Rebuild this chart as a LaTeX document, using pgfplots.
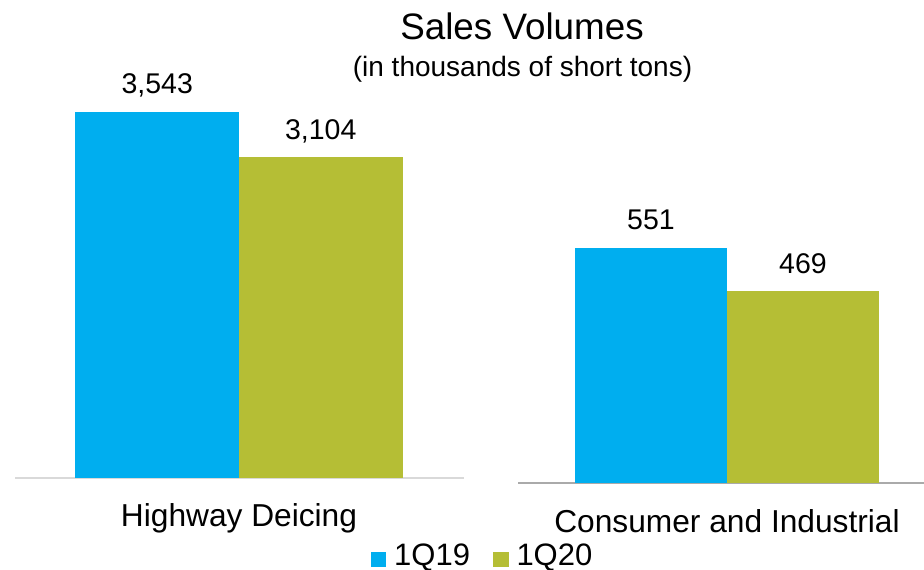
\documentclass[border=0pt]{standalone}
\usepackage{pgfplots}
\pgfplotsset{compat=1.18}
\usepackage{fontspec}
\setmainfont{Liberation Sans}
\definecolor{c19}{RGB}{0,174,239}
\definecolor{c20}{RGB}{181,190,53}
\begin{document}
\begin{tikzpicture}
\path[use as bounding box] (0pt,0pt) rectangle (924pt,570pt);
\pgfplotsset{
  common/.style={
    scale only axis, ybar=0pt, bar width=1,
    enlargelimits=false,
    hide y axis,
    axis x line*=bottom,
    xtick={0}, major tick length=0,
    xticklabel style={font=\fontsize{31.7}{34}\selectfont, anchor=base, yshift=-49pt},
    nodes near coords, point meta=y,
    /pgf/number format/.cd, assume math mode=true, 1000 sep={,}, fixed, precision=0, /pgfplots/.cd,
    nodes near coords style={font=\fontsize{28.5}{30}\selectfont, anchor=base, yshift=18pt, /pgf/number format/assume math mode=true, /pgf/number format/1000 sep={,}},
    legend image code/.code={\fill[##1] (0pt,-12pt) rectangle (15.5pt,3.5pt);},
  }
}
\begin{axis}[common,
  at={(15pt,92pt)}, anchor=south west,
  width=449pt, height=413.6pt,
  xmin=-1.370, xmax=1.376, ymin=0, ymax=4000,
  x axis line style={-, line width=2pt, color={rgb,255:red,217;green,217;blue,217}},
  xticklabels={Highway Deicing},
  legend columns=2,
  legend style={at={(1.0412,-0.1865)}, anchor=center, draw=none, fill=none,
    font=\fontsize{31}{33}\selectfont,
    /tikz/every odd column/.append style={column sep=6pt},
    /tikz/every even column/.append style={column sep=21pt}},
]
\addplot[fill=c19, draw=none, bar shift=-0.5] coordinates {(0,3543)};
\addplot[fill=c20, draw=none, bar shift=0.5] coordinates {(0,3104)};
\legend{1Q19,1Q20}
\end{axis}
\begin{axis}[common,
  at={(518pt,86.5pt)}, anchor=south west,
  width=406pt, height=314.27pt,
  xmin=-1.375, xmax=1.296, ymin=104.8, ymax=700,
  x axis line style={-, line width=2pt, color={rgb,255:red,170;green,170;blue,170}},
  xticklabels={Consumer and Industrial},
]
\addplot[fill=c19, draw=none, bar shift=-0.5] coordinates {(0,551)};
\addplot[fill=c20, draw=none, bar shift=0.5] coordinates {(0,469)};
\end{axis}
\node[anchor=base, font=\fontsize{36.8}{40}\selectfont] at (522pt,530pt) {Sales Volumes};
\node[anchor=base, font=\fontsize{28}{30}\selectfont] at (522.5pt,493pt) {(in thousands of short tons)};
\end{tikzpicture}
\end{document}
